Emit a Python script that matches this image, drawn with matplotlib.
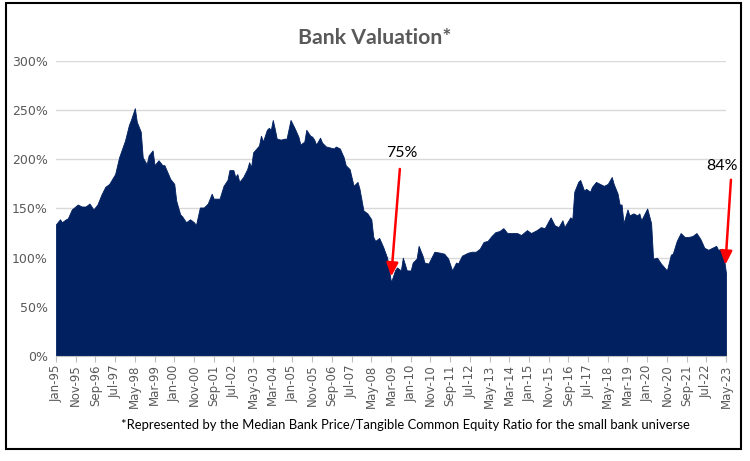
import matplotlib
matplotlib.use("Agg")
import matplotlib.pyplot as plt
from matplotlib.patches import Rectangle

# Median bank price / tangible common equity (%)
# month index = months since Jan-95
months = [0, 2, 3, 5, 6, 8, 11, 13, 15, 17, 19, 21, 23, 25, 27, 30, 32, 35, 37, 38,
          40, 41, 43, 44, 46, 47, 49, 50, 52, 54, 55, 58, 60, 61, 63, 64, 66, 68, 70, 71,
          73, 75, 77, 79, 80, 83, 85, 87, 88, 90, 91, 92, 93, 95, 97, 98, 99, 100, 103, 104,
          105, 107, 108, 109, 110, 111, 112, 114, 116, 117, 119, 121, 123, 124, 126, 127, 129, 130, 131, 132,
          134, 135, 137, 139, 141, 142, 144, 146, 147, 149, 151, 153, 154, 156, 158, 160, 161, 162, 164, 166,
          168, 170, 172, 173, 175, 176, 178, 180, 181, 183, 184, 186, 187, 189, 191, 192, 195, 197, 199, 201,
          203, 204, 206, 209, 211, 213, 215, 217, 219, 221, 223, 225, 227, 229, 231, 234, 236, 239, 241, 244,
          246, 248, 251, 253, 255, 257, 258, 261, 262, 263, 265, 266, 268, 269, 271, 272, 274, 276, 278, 280,
          282, 283, 285, 286, 287, 288, 290, 291, 293, 295, 296, 297, 300, 302, 303, 305, 307, 310, 312, 313,
          315, 317, 319, 321, 323, 325, 327, 329, 331, 333, 335, 336, 338, 339, 340]
ratio = [134, 139, 136, 139, 140, 149, 154, 152, 152, 155, 149, 154, 164, 172, 175, 185, 202, 219, 235, 240,
         252, 238, 228, 202, 195, 204, 209, 194, 199, 194, 194, 180, 175, 158, 144, 142, 136, 139, 136, 133,
         151, 151, 155, 165, 160, 160, 173, 179, 189, 189, 182, 185, 177, 182, 190, 197, 192, 207, 214, 224,
         218, 230, 232, 230, 240, 231, 221, 220, 221, 221, 240, 232, 223, 215, 218, 230, 224, 223, 220, 215,
         222, 217, 213, 212, 211, 213, 211, 202, 194, 190, 173, 177, 170, 148, 145, 139, 121, 117, 120, 111,
         100, 75, 87, 90, 87, 100, 87, 87, 95, 99, 112, 102, 95, 94, 102, 106, 105, 104, 99, 87,
         95, 94, 102, 105, 106, 106, 109, 116, 117, 122, 126, 127, 130, 125, 125, 125, 123, 128, 125, 128,
         131, 130, 141, 133, 131, 138, 131, 141, 139, 167, 177, 179, 168, 170, 167, 172, 177, 175, 173, 175,
         182, 175, 165, 154, 154, 135, 149, 143, 145, 143, 145, 138, 150, 135, 99, 100, 94, 87, 103, 104,
         117, 125, 121, 121, 122, 125, 119, 110, 108, 110, 112, 108, 109, 99, 84]

tick_labels = ["Jan-95", "Nov-95", "Sep-96", "Jul-97", "May-98", "Mar-99", "Jan-00", "Nov-00",
               "Sep-01", "Jul-02", "May-03", "Mar-04", "Jan-05", "Nov-05", "Sep-06", "Jul-07",
               "May-08", "Mar-09", "Jan-10", "Nov-10", "Sep-11", "Jul-12", "May-13", "Mar-14",
               "Jan-15", "Nov-15", "Sep-16", "Jul-17", "May-18", "Mar-19", "Jan-20", "Nov-20",
               "Sep-21", "Jul-22", "May-23"]
tick_pos = list(range(0, 341, 10))

y_ticks = [0, 50, 100, 150, 200, 250, 300]

navy = "#002060"
grey = "#595959"

fig = plt.figure(figsize=(7.5, 4.61), dpi=100)
ax = fig.add_axes([0.0747, 0.2278, 0.8933, 0.64])

ax.fill_between(months, ratio, 0, color=navy, linewidth=0.6, edgecolor=navy, zorder=2)

ax.set_xlim(0, 340)
ax.set_ylim(0, 300)
ax.set_yticks(y_ticks)
ax.set_yticklabels([f"{v}%" for v in y_ticks])
ax.set_xticks(tick_pos)
ax.set_xticklabels(tick_labels, rotation=90)
ax.grid(axis="y", color="#d9d9d9", linewidth=1.0, zorder=0)
ax.set_axisbelow(True)

for s in ["top", "right", "left"]:
    ax.spines[s].set_visible(False)
ax.spines["bottom"].set_color("#bfbfbf")
ax.tick_params(axis="y", length=0, labelsize=9, labelcolor=grey, pad=6)
ax.tick_params(axis="x", length=4, color="#bfbfbf", labelsize=8.5, labelcolor=grey, pad=2)

# annotations
arrow = dict(arrowstyle="-|>,head_width=0.35,head_length=0.8", color="red", lw=1.8)
ax.annotate("", xy=(170, 78), xytext=(174.6, 193), arrowprops=arrow, zorder=5)
ax.text(175.5, 206, "75%", ha="center", va="center", fontsize=11.5,
        family="Lato", color="black")
ax.annotate("", xy=(339.6, 90), xytext=(342.6, 182), arrowprops=arrow,
            annotation_clip=False, zorder=5)
ax.text(338, 193, "84%", ha="center", va="center", fontsize=11.5,
        family="Lato", color="black")

fig.text(0.5, 0.918, "Bank Valuation*", ha="center", va="center", fontsize=15.3,
         fontweight="bold", family="Lato", color=grey)
fig.text(0.541, 0.078, "*Represented by the Median Bank Price/Tangible Common Equity Ratio for the small bank universe",
         ha="center", va="center", fontsize=9.4, family="Lato", color="black")

fig.patches.append(Rectangle((0.008, 0.026), 0.98, 0.967, transform=fig.transFigure,
                             fill=False, edgecolor="black", linewidth=1.5))

fig.savefig("out.png", dpi=100)
